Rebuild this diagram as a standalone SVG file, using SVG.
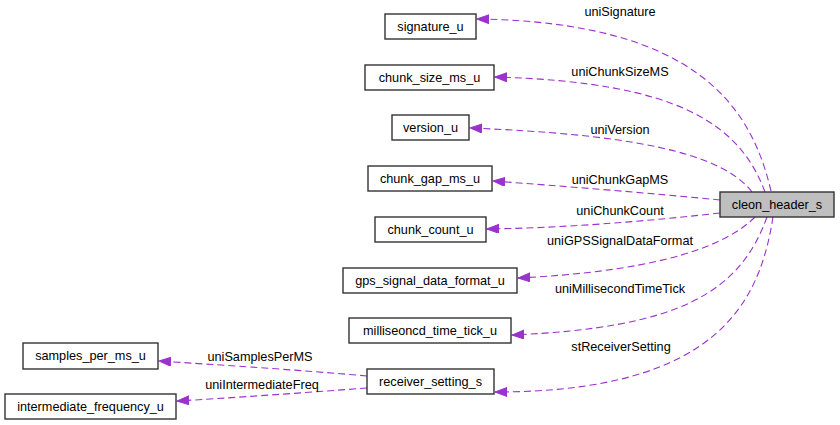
<svg xmlns="http://www.w3.org/2000/svg" width="840" height="425" viewBox="0 0 840 425">
<style>
.n rect{fill:#ffffff;stroke:#333333;stroke-width:1.4}
.n.h rect{fill:#bfbfbf}
text{font-family:"Liberation Sans",Arial,sans-serif;font-size:12.7px;fill:#000}
.n text{text-anchor:middle}
.e path{fill:none;stroke:#9a32cd;stroke-width:1.1;stroke-dasharray:7,4}
.l text{text-anchor:middle}
</style>
<defs>
<marker id="ah" markerUnits="userSpaceOnUse" markerWidth="13" markerHeight="10" refX="12" refY="4.5" orient="auto">
<path d="M0,0 L12,4.5 L0,9 z" fill="#9a32cd" stroke="#9a32cd" stroke-width="1"/>
</marker>
</defs>
<rect width="840" height="425" fill="#ffffff"/>
<g id="edges" class="e">
<path marker-end="url(#ah)" d="M771,191 C752,110 700,22 477,19"/>
<path marker-end="url(#ah)" d="M765,192 C740,125 680,82 495,77"/>
<path marker-end="url(#ah)" d="M752,192 C720,150 620,134 470,128"/>
<path marker-end="url(#ah)" d="M720,200 C650,193 560,186 493,181"/>
<path marker-end="url(#ah)" d="M720,213 C640,222 560,228 487,229"/>
<path marker-end="url(#ah)" d="M755,217 C720,252 640,272 518,278"/>
<path marker-end="url(#ah)" d="M767,217 C740,292 680,328 512,335"/>
<path marker-end="url(#ah)" d="M773,217 C760,300 720,392 495,392"/>
<path marker-end="url(#ah)" d="M367,376 C300,370 220,365 159,361"/>
<path marker-end="url(#ah)" d="M367,388 C300,393 230,398 177,401"/>
</g>
<g id="labels" class="l">
<text x="620" y="16">uniSignature</text>
<text x="620" y="76">uniChunkSizeMS</text>
<text x="620" y="134">uniVersion</text>
<text x="620" y="184">uniChunkGapMS</text>
<text x="620" y="215">uniChunkCount</text>
<text x="620" y="245">uniGPSSignalDataFormat</text>
<text x="620" y="293">uniMillisecondTimeTick</text>
<text x="621" y="351">stReceiverSetting</text>
<text x="260" y="361">uniSamplesPerMS</text>
<text x="262" y="389">uniIntermediateFreq</text>
</g>
<g id="cleon_header_s" class="n h"><rect x="720" y="192" width="114" height="25"/><text x="777" y="209">cleon_header_s</text></g>
<g id="signature_u" class="n"><rect x="385" y="14" width="91" height="25"/><text x="430.5" y="31">signature_u</text></g>
<g id="chunk_size_ms_u" class="n"><rect x="365" y="65" width="129" height="25"/><text x="429.5" y="82">chunk_size_ms_u</text></g>
<g id="version_u" class="n"><rect x="392" y="115" width="77" height="25"/><text x="430.5" y="132">version_u</text></g>
<g id="chunk_gap_ms_u" class="n"><rect x="368" y="166" width="124" height="25"/><text x="430" y="183">chunk_gap_ms_u</text></g>
<g id="chunk_count_u" class="n"><rect x="375" y="217" width="111" height="25"/><text x="430.5" y="234">chunk_count_u</text></g>
<g id="gps_signal_data_format_u" class="n"><rect x="343" y="268" width="174" height="25"/><text x="430" y="285">gps_signal_data_format_u</text></g>
<g id="milliseoncd_time_tick_u" class="n"><rect x="349" y="318" width="162" height="25"/><text x="430" y="335">milliseoncd_time_tick_u</text></g>
<g id="receiver_setting_s" class="n"><rect x="367" y="369" width="127" height="25"/><text x="430.5" y="386">receiver_setting_s</text></g>
<g id="samples_per_ms_u" class="n"><rect x="23" y="343" width="135" height="26"/><text x="90.5" y="360">samples_per_ms_u</text></g>
<g id="intermediate_frequency_u" class="n"><rect x="5" y="394" width="171" height="25"/><text x="90.5" y="411">intermediate_frequency_u</text></g>
</svg>
